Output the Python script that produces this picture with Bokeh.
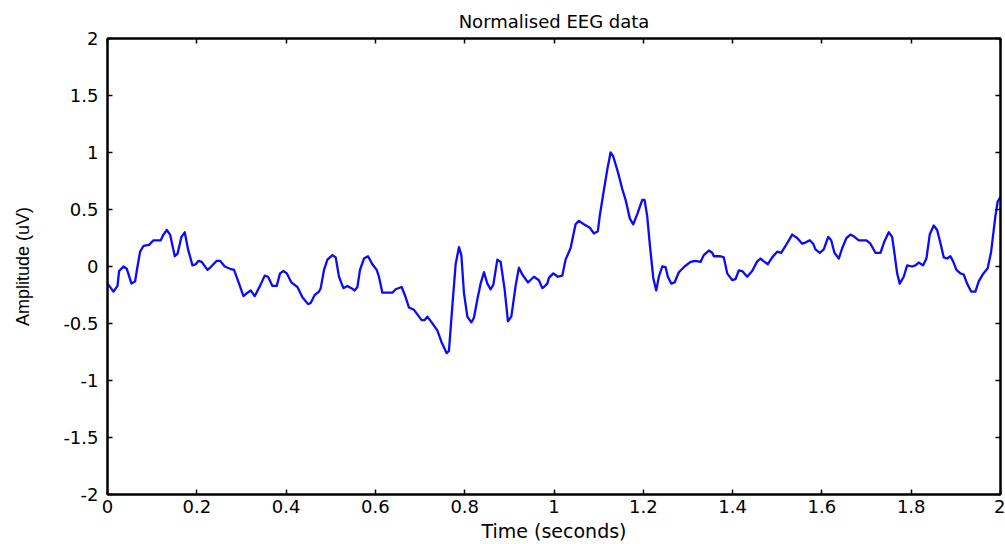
from bokeh.plotting import figure
from bokeh.models import LinearAxis, FixedTicker, Range1d, Title
from bokeh.embed import file_html
from bokeh.resources import INLINE

# EEG trace: time (s) and normalised amplitude (uV)
time_s = [
    0.0000, 0.0134, 0.0224, 0.0260, 0.0358, 0.0432, 0.0537, 0.0618, 0.0672, 0.0730,
    0.0806, 0.0931, 0.1030, 0.1193, 0.1254, 0.1327, 0.1401, 0.1507, 0.1567, 0.1657,
    0.1730, 0.1804, 0.1903, 0.1977, 0.2037, 0.2111, 0.2239, 0.2312, 0.2447, 0.2521,
    0.2626, 0.2745, 0.2834, 0.2946, 0.3045, 0.3134, 0.3208, 0.3297, 0.3416, 0.3521,
    0.3595, 0.3694, 0.3790, 0.3864, 0.3940, 0.4014, 0.4119, 0.4253, 0.4365, 0.4491,
    0.4551, 0.4641, 0.4737, 0.4775, 0.4849, 0.4925, 0.5037, 0.5111, 0.5185, 0.5283,
    0.5373, 0.5462, 0.5536, 0.5597, 0.5655, 0.5744, 0.5834, 0.5932, 0.6029, 0.6080,
    0.6156, 0.6268, 0.6380, 0.6454, 0.6588, 0.6678, 0.6752, 0.6864, 0.6940, 0.7036,
    0.7103, 0.7164, 0.7260, 0.7387, 0.7477, 0.7596, 0.7647, 0.7723, 0.7797, 0.7871,
    0.7925, 0.7983, 0.8059, 0.8149, 0.8207, 0.8283, 0.8357, 0.8431, 0.8507, 0.8581,
    0.8641, 0.8731, 0.8805, 0.8894, 0.8968, 0.9044, 0.9140, 0.9214, 0.9290, 0.9416,
    0.9550, 0.9662, 0.9738, 0.9774, 0.9850, 0.9886, 0.9984, 1.0087, 1.0186, 1.0259,
    1.0371, 1.0483, 1.0557, 1.0669, 1.0803, 1.0893, 1.0982, 1.1027, 1.1117, 1.1193,
    1.1267, 1.1327, 1.1430, 1.1529, 1.1603, 1.1699, 1.1775, 1.1865, 1.1977, 1.2028,
    1.2088, 1.2147, 1.2223, 1.2290, 1.2348, 1.2424, 1.2498, 1.2550, 1.2626, 1.2700,
    1.2796, 1.2924, 1.3058, 1.3170, 1.3282, 1.3356, 1.3468, 1.3544, 1.3580, 1.3730,
    1.3803, 1.3879, 1.3991, 1.4065, 1.4139, 1.4215, 1.4327, 1.4439, 1.4551, 1.4625,
    1.4699, 1.4789, 1.4887, 1.4999, 1.5088, 1.5185, 1.5335, 1.5447, 1.5559, 1.5632,
    1.5729, 1.5805, 1.5856, 1.5953, 1.6042, 1.6140, 1.6208, 1.6281, 1.6378, 1.6454,
    1.6550, 1.6640, 1.6729, 1.6825, 1.6998, 1.7087, 1.7199, 1.7311, 1.7400, 1.7497,
    1.7573, 1.7624, 1.7685, 1.7743, 1.7833, 1.7909, 1.8021, 1.8094, 1.8168, 1.8267,
    1.8341, 1.8415, 1.8505, 1.8581, 1.8655, 1.8729, 1.8804, 1.8878, 1.8939, 1.9013,
    1.9102, 1.9176, 1.9252, 1.9342, 1.9438, 1.9512, 1.9610, 1.9713, 1.9790, 1.9885,
    1.9937, 2.0000,
]
amplitude_uv = [
    -0.15, -0.22, -0.17, -0.04, 0.00, -0.02, -0.15, -0.13, 0.00, 0.13,
    0.18, 0.19, 0.23, 0.23, 0.28, 0.32, 0.28, 0.09, 0.11, 0.26,
    0.30, 0.15, 0.01, 0.02, 0.05, 0.04, -0.03, -0.005, 0.05, 0.05,
    0.00, -0.02, -0.03, -0.15, -0.26, -0.23, -0.21, -0.26, -0.17, -0.08,
    -0.09, -0.17, -0.17, -0.06, -0.04, -0.06, -0.14, -0.18, -0.27, -0.33,
    -0.32, -0.25, -0.22, -0.19, -0.03, 0.06, 0.10, 0.08, -0.09, -0.19,
    -0.17, -0.19, -0.21, -0.18, -0.03, 0.07, 0.09, 0.02, -0.03, -0.09,
    -0.23, -0.23, -0.23, -0.20, -0.18, -0.27, -0.36, -0.38, -0.42, -0.47,
    -0.47, -0.44, -0.49, -0.56, -0.66, -0.76, -0.74, -0.35, 0.02, 0.17,
    0.10, -0.23, -0.44, -0.49, -0.45, -0.29, -0.15, -0.05, -0.15, -0.20,
    -0.16, 0.06, 0.04, -0.20, -0.48, -0.44, -0.17, -0.01, -0.07, -0.14,
    -0.09, -0.12, -0.19, -0.18, -0.15, -0.10, -0.06, -0.09, -0.08, 0.06,
    0.16, 0.37, 0.40, 0.37, 0.34, 0.29, 0.31, 0.45, 0.67, 0.85,
    1.00, 0.965, 0.83, 0.68, 0.585, 0.42, 0.37, 0.46, 0.585, 0.585,
    0.44, 0.19, -0.10, -0.21, -0.09, 0.00, -0.005, -0.09, -0.15, -0.14,
    -0.05, 0.00, 0.04, 0.05, 0.04, 0.10, 0.14, 0.12, 0.09, 0.09,
    0.08, -0.06, -0.12, -0.11, -0.035, -0.04, -0.09, -0.04, 0.045, 0.07,
    0.045, 0.02, 0.08, 0.13, 0.12, 0.18, 0.28, 0.25, 0.20, 0.21,
    0.23, 0.20, 0.15, 0.12, 0.15, 0.26, 0.23, 0.12, 0.07, 0.16,
    0.25, 0.28, 0.26, 0.23, 0.23, 0.20, 0.12, 0.12, 0.22, 0.30,
    0.26, 0.12, -0.06, -0.15, -0.09, 0.01, 0.00, 0.01, 0.035, 0.01,
    0.07, 0.28, 0.36, 0.32, 0.205, 0.08, 0.07, 0.09, 0.045, -0.03,
    -0.06, -0.07, -0.15, -0.22, -0.22, -0.13, -0.065, -0.015, 0.13, 0.44,
    0.57, 0.61,
]

x_ticks = [0, 0.2, 0.4, 0.6, 0.8, 1.0, 1.2, 1.4, 1.6, 1.8, 2.0]
x_tick_labels = ["0", "0.2", "0.4", "0.6", "0.8", "1", "1.2", "1.4", "1.6", "1.8", "2"]
y_ticks = [-2, -1.5, -1, -0.5, 0, 0.5, 1, 1.5, 2]
y_tick_labels = ["-2", "-1.5", "-1", "-0.5", "0", "0.5", "1", "1.5", "2"]

FONT = "DejaVu Sans"

p = figure(
    width=1005, height=544,
    x_range=Range1d(0, 2), y_range=Range1d(-2, 2),
    output_backend="svg", toolbar_location=None,
    min_border_left=107, min_border_right=5,
    min_border_top=38, min_border_bottom=49,
    background_fill_color="white", border_fill_color="white",
)
p.grid.visible = False
p.outline_line_color = "black"
p.outline_line_width = 2

p.line(time_s, amplitude_uv, line_color="#0a0aff", line_width=2.3,
       line_join="round")


def style_axis(ax, ticks, labels):
    ax.ticker = FixedTicker(ticks=ticks)
    ax.major_label_overrides = dict(zip(ticks, labels))
    ax.minor_tick_line_color = None
    ax.major_tick_in = 5
    ax.major_tick_out = 0
    ax.major_tick_line_width = 1.5
    ax.axis_line_width = 2
    ax.axis_line_color = "black"
    ax.major_tick_line_color = "black"
    ax.major_label_text_font = FONT
    ax.major_label_text_font_size = "18px"
    ax.major_label_text_font_style = "normal"
    ax.major_label_text_color = "black"


style_axis(p.xaxis[0], x_ticks, x_tick_labels)
style_axis(p.yaxis[0], y_ticks, y_tick_labels)
p.xaxis[0].major_label_standoff = 5
p.yaxis[0].major_label_standoff = 9

p.xaxis[0].axis_label = "Time (seconds)"
p.xaxis[0].axis_label_text_font = FONT
p.xaxis[0].axis_label_text_font_size = "19px"
p.xaxis[0].axis_label_text_font_style = "normal"
p.xaxis[0].axis_label_text_color = "black"
p.xaxis[0].axis_label_standoff = 4

p.yaxis[0].axis_label = "Amplitude (uV)"
p.yaxis[0].axis_label_text_font = "Liberation Sans"
p.yaxis[0].axis_label_text_font_size = "18px"
p.yaxis[0].axis_label_text_font_style = "normal"
p.yaxis[0].axis_label_text_color = "black"
p.yaxis[0].axis_label_standoff = 27

# tick marks along the top and right edges of the box (no labels)
for side, ticks in (("above", x_ticks), ("right", y_ticks)):
    ax = LinearAxis(ticker=FixedTicker(ticks=ticks))
    ax.minor_tick_line_color = None
    ax.major_tick_in = 5
    ax.major_tick_out = 0
    ax.major_tick_line_width = 1.5
    ax.axis_line_width = 2
    ax.major_label_text_color = None
    ax.major_label_text_font_size = "1px"
    ax.major_label_standoff = 0
    p.add_layout(ax, side)

p.title = Title(
    text="Normalised EEG data", align="center",
    text_font=FONT, text_font_size="18px", text_font_style="normal",
    text_color="black", standoff=13,
)

open("out.html", "w").write(file_html(p, INLINE))
